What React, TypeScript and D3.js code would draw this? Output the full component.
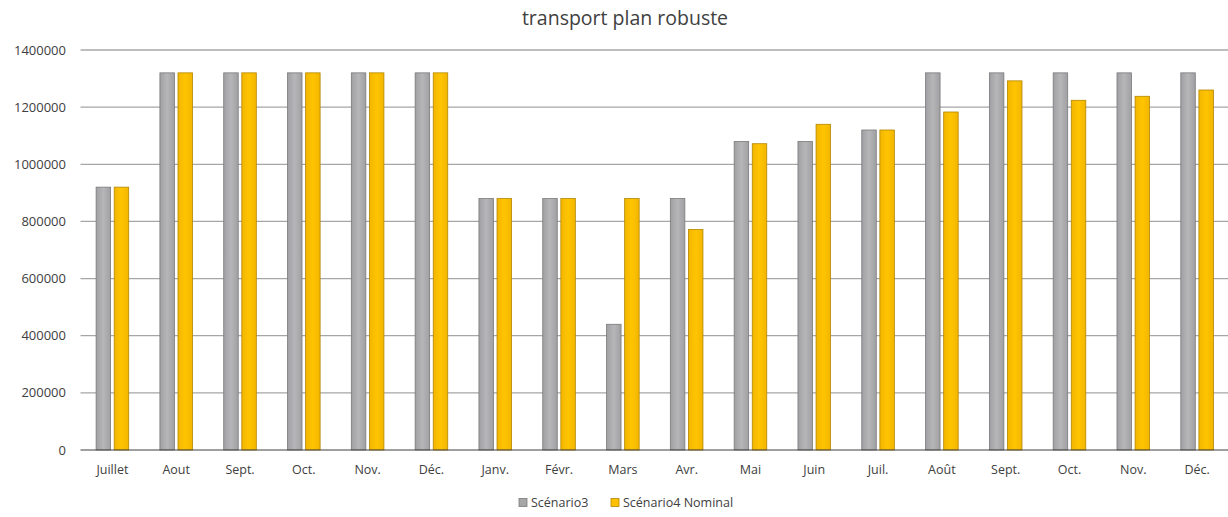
import React from "react";
import * as d3 from "d3";

const categories = ["Juillet", "Aout", "Sept.", "Oct.", "Nov.", "Déc.", "Janv.", "Févr.", "Mars", "Avr.", "Mai", "Juin", "Juil.", "Août", "Sept.", "Oct.", "Nov.", "Déc."];
const scenario3 = [920000, 1320000, 1320000, 1320000, 1320000, 1320000, 880000, 880000, 440000, 880000, 1080000, 1080000, 1120000, 1320000, 1320000, 1320000, 1320000, 1320000];
const scenario4 = [920000, 1320000, 1320000, 1320000, 1320000, 1320000, 880000, 880000, 880000, 772000, 1072000, 1140000, 1120000, 1183000, 1292000, 1224000, 1238000, 1260000];
const yTicks = [0, 200000, 400000, 600000, 800000, 1000000, 1200000, 1400000];
const seriesNames = ["Scénario3", "Scénario4 Nominal"];

const W = 1228, H = 517;
const left = 80.5, right = 1229, top = 50, bottom = 450;
const FONT = "'Open Sans', 'Liberation Sans', sans-serif";

export default function App() {
  const x = d3.scaleBand<number>().domain(d3.range(categories.length)).range([left, right]).paddingInner(0).paddingOuter(0);
  const y = d3.scaleLinear().domain([0, 1400000]).range([bottom, top]);
  const bw = 14.5, gap = 3.6;
  const series = [scenario3, scenario4];
  const fills = ["url(#gGray)", "url(#gYel)"];
  const strokes = ["#7a7a7a", "#b38600"];
  return (
    <svg width={W} height={H} style={{ position: "absolute", left: 0, top: 0, background: "#fff" }} fontFamily={FONT}>
      <defs>
        <linearGradient id="gGray" x1="0" x2="1" y1="0" y2="0">
          <stop offset="0" stopColor="#a0a0a4" />
          <stop offset="0.5" stopColor="#b6b6b8" />
          <stop offset="1" stopColor="#a0a0a4" />
        </linearGradient>
        <linearGradient id="gYel" x1="0" x2="1" y1="0" y2="0">
          <stop offset="0" stopColor="#f2b600" />
          <stop offset="0.5" stopColor="#ffc400" />
          <stop offset="1" stopColor="#f2b600" />
        </linearGradient>
      </defs>
      <text x={625} y={25} textAnchor="middle" fontSize={19.5} fill="#404040">transport plan robuste</text>
      {yTicks.map((t) => (
        <g key={t}>
          {t > 0 && <line x1={left} x2={W} y1={y(t)} y2={y(t)} stroke={t === 1400000 ? "#7f7f7f" : "#a6a6a6"} strokeWidth={1.2} />}
          <text x={66} y={y(t) + 4.5} textAnchor="end" fontSize={13} fill="#404040">{t}</text>
        </g>
      ))}
      {series.map((vals, s) =>
        vals.map((v, i) => {
          const cx = (x(i) as number) + x.bandwidth() / 2;
          const bx = s === 0 ? cx - gap / 2 - bw : cx + gap / 2;
          return (
            <rect key={s + "-" + i} x={bx} y={y(v)} width={bw} height={bottom - y(v)} fill={fills[s]} stroke={strokes[s]} strokeWidth={0.8} />
          );
        })
      )}
      <line x1={left} x2={W} y1={bottom} y2={bottom} stroke="#404040" strokeWidth={1.2} />
      {categories.map((c, i) => (
        <text key={i} x={(x(i) as number) + x.bandwidth() / 2} y={474} textAnchor="middle" fontSize={12.5} fill="#404040">{c}</text>
      ))}
      <g>
        <rect x={519} y={498.5} width={8} height={8} fill="#a6a6a6" stroke="#7a7a7a" strokeWidth={0.8} />
        <text x={531} y={507} fontSize={12.5} fill="#404040">{seriesNames[0]}</text>
        <rect x={611} y={498.5} width={8} height={8} fill="#ffc000" stroke="#b38600" strokeWidth={0.8} />
        <text x={623} y={507} fontSize={12.5} fill="#404040">{seriesNames[1]}</text>
      </g>
    </svg>
  );
}
